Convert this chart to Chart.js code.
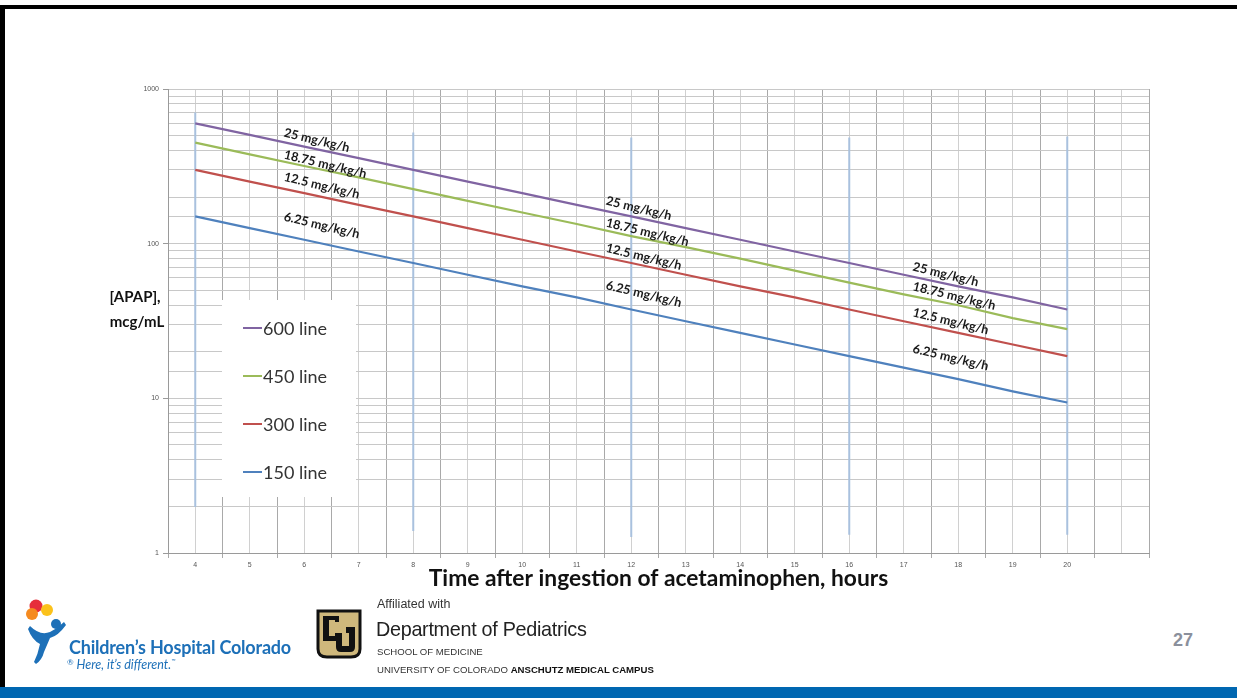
<!DOCTYPE html>
<html>
<head>
<meta charset="utf-8">
<script src="https://cdn.jsdelivr.net/npm/chart.js@4.4.1/dist/chart.umd.min.js"></script>
<style>
  html, body { margin: 0; padding: 0; background: #fff; }
  body { width: 1237px; height: 698px; position: relative; overflow: hidden; font-family: "Liberation Sans", Arial, sans-serif; }
  #chart { position: absolute; left: 0; top: 0; }
  .topline { position: absolute; left: 0; top: 5px; width: 1237px; height: 4px; background: #000; }
  .leftline { position: absolute; left: 0; top: 5px; width: 5px; height: 682px; background: #000; }
  .bluebar { position: absolute; left: 0; top: 687px; width: 1237px; height: 11px; background: #0067b1; }
  .pagenum { position: absolute; left: 1173px; top: 630px; font: bold 18px "Liberation Sans", Arial, sans-serif; color: #8b909c; }
  .chco { position: absolute; left: 69px; top: 636px; font: bold 18px Lato, sans-serif; color: #1d70b8; letter-spacing: -0.2px; }
  .chco-tag { position: absolute; left: 67px; top: 657px; font: italic 12.5px Lato, sans-serif; color: #1d70b8; }
  .aff { position: absolute; left: 377px; top: 597px; font-size: 12.5px; color: #333; }
  .dept { position: absolute; left: 376px; top: 618px; font-size: 19.8px; color: #222; letter-spacing: -0.3px; }
  .som { position: absolute; left: 377px; top: 646px; font-size: 9.6px; color: #333; }
  .univ { position: absolute; left: 377px; top: 664px; font-size: 9.6px; color: #333; }
  .univ b { color: #111; }
</style>
</head>
<body>
<div class="topline"></div>
<div class="leftline"></div>
<canvas id="chart" width="1237" height="600"></canvas>

<!-- footer logos -->
<svg style="position:absolute;left:20px;top:596px" width="50" height="74" viewBox="0 0 50 74">
  <circle cx="16" cy="10" r="6.5" fill="#e62e3b"/>
  <circle cx="27" cy="14" r="6" fill="#fbc21b"/>
  <circle cx="12" cy="18" r="6" fill="#f58a1f"/>
  <circle cx="36" cy="28" r="5" fill="#1d70b8"/>
  <path d="M10 30 Q20 40 30 36 Q38 32 44 26 L46 29 Q38 40 30 42 L24 56 Q22 64 16 68 L14 66 Q18 58 20 48 Q12 44 8 33 Z" fill="#1d70b8"/>
</svg>
<div class="chco">Children’s Hospital Colorado</div>
<div class="chco-tag"><span style="font-size:8px;font-style:normal;vertical-align:top">®</span> Here, it’s different.<span style="font-size:6px;vertical-align:top">™</span></div>

<svg style="position:absolute;left:315px;top:609px" width="48" height="50" viewBox="0 0 48 50">
  <path d="M3 2 H45 V40 Q45 48 36 48 H12 Q3 48 3 40 Z" fill="#cfb87c" stroke="#111" stroke-width="3"/>
  <path d="M8 7 H24 V13 H20 V11 H14 V27 H20 V24 H24 V32 H8 Z" fill="#111"/>
  <path d="M22 18 H40 V38 Q40 43 35 43 H26 Q21 43 21 38 V24 H27 V37 H34 V24 H31 V18" fill="#111"/>
</svg>
<div class="aff">Affiliated with</div>
<div class="dept">Department of Pediatrics</div>
<div class="som">SCHOOL OF MEDICINE</div>
<div class="univ">UNIVERSITY OF COLORADO <b>ANSCHUTZ MEDICAL CAMPUS</b></div>

<div class="pagenum">27</div>
<div class="bluebar"></div>

<script>
// ─── Data ───
const hours = [4, 5, 6, 7, 8, 9, 10, 11, 12, 13, 14, 15, 16, 17, 18, 19, 20];
const line600 = [600, 505, 424, 357, 300, 252, 212, 178, 150, 126, 106, 89, 75, 63, 53, 45, 37.5];
const line450 = [450, 378, 318, 268, 225, 189, 159, 134, 112, 95, 80, 67, 56, 47, 40, 33, 28];
const line300 = [300, 252, 212, 178, 150, 126, 106, 89, 75, 63, 53, 45, 37.5, 31.5, 26.5, 22.3, 18.75];
const line150 = [150, 126, 106, 89, 75, 63, 53, 45, 37.5, 31.5, 26.5, 22.3, 18.75, 15.8, 13.3, 11.1, 9.4];

const seriesNames = ['600 line', '450 line', '300 line', '150 line'];
const seriesColors = ['#8064a2', '#9bbb59', '#c0504d', '#4f81bd'];

// thin vertical marks at 4-hour intervals
const markerHours = [4, 8, 12, 16, 20];
const markerTops = [705, 523, 486, 486, 493];
const markerBottoms = [1.98, 1.39, 1.27, 1.31, 1.31];

// infusion-rate labels along the lines
const rateLabels = ['25 mg/kg/h', '18.75 mg/kg/h', '12.5 mg/kg/h', '6.25 mg/kg/h'];
const rateLabelHours = [5.63, 11.54, 17.17];
const rateLabelValues = [
    [523, 377, 271, 150],
    [190, 137, 94, 54],
    [71, 53, 36, 21]
];

const xTickMin = 3.5, xTickMax = 21.5;

// ─── Build datasets ───
const allSeries = [line600, line450, line300, line150];
const datasets = allSeries.map((vals, i) => ({
    label: seriesNames[i],
    data: hours.map((h, j) => ({ x: h, y: vals[j] })),
    borderColor: seriesColors[i],
    borderWidth: 2.2,
    pointRadius: 0,
    tension: 0
}));
markerHours.forEach((h, i) => {
    datasets.push({
        label: 'mark' + h,
        data: [{ x: h, y: markerBottoms[i] }, { x: h, y: markerTops[i] }],
        borderColor: '#a9c1de',
        borderWidth: 2,
        pointRadius: 0
    });
});

// ─── Plugins ───
const legendBox = {
    id: 'legendBox',
    beforeDatasetsDraw(chart) {
        const ctx = chart.ctx;
        ctx.save();
        ctx.fillStyle = '#fff';
        ctx.fillRect(222, 300, 134, 197);
        ctx.font = '18px Lato, sans-serif';
        ctx.textBaseline = 'middle';
        ctx.fillStyle = '#333';
        seriesNames.forEach((name, i) => {
            const y = 328 + i * 48;
            ctx.strokeStyle = seriesColors[i];
            ctx.lineWidth = 2;
            ctx.beginPath();
            ctx.moveTo(243, y);
            ctx.lineTo(262, y);
            ctx.stroke();
            ctx.fillText(name, 263, y + 1);
        });
        ctx.restore();
    }
};

const rateText = {
    id: 'rateText',
    afterDatasetsDraw(chart) {
        const { ctx, scales: { x, y } } = chart;
        ctx.save();
        ctx.font = 'bold 12.6px Lato, sans-serif';
        ctx.fillStyle = '#1a1a1a';
        ctx.textBaseline = 'middle';
        rateLabelHours.forEach((h, g) => {
            rateLabels.forEach((txt, k) => {
                ctx.save();
                ctx.translate(x.getPixelForValue(h), y.getPixelForValue(rateLabelValues[g][k]));
                ctx.rotate(13.5 * Math.PI / 180);
                ctx.fillText(txt, 0, 0);
                ctx.restore();
            });
        });
        // y axis title, horizontal, two lines
        ctx.font = 'bold 15px Lato, sans-serif';
        ctx.textAlign = 'center';
        ctx.fillStyle = '#111';
        ctx.fillText('[APAP],', 135, 297);
        ctx.fillText('mcg/mL', 137, 322);
        ctx.restore();
    }
};

const isDecade = v => Math.abs(Math.log10(v) - Math.round(Math.log10(v))) < 1e-9;

new Chart(document.getElementById('chart'), {
    type: 'line',
    data: { datasets },
    options: {
        responsive: false,
        animation: false,
        layout: { padding: { left: 128, top: 89, right: 88, bottom: 0 } },
        plugins: { legend: { display: false }, tooltip: { enabled: false } },
        scales: {
            x: {
                type: 'linear',
                min: xTickMin,
                max: xTickMax,
                afterFit: s => { s.height = 47; },
                border: { color: '#9a9a9a', width: 1 },
                grid: {
                    color: c => (c.tick && c.tick.value % 1 === 0) ? '#d0d0d0' : '#a9a9a9',
                    tickColor: c => (c.tick && c.tick.value % 1 === 0) ? 'rgba(0,0,0,0)' : '#a9a9a9',
                    tickLength: 5,
                    lineWidth: 1
                },
                ticks: {
                    stepSize: 0.5,
                    autoSkip: false,
                    maxRotation: 0,
                    padding: 3,
                    color: '#555',
                    font: { size: 7, family: 'Liberation Sans' },
                    callback: v => (v % 1 === 0 && v >= 4 && v <= 20) ? String(v) : ''
                },
                title: {
                    display: true,
                    text: 'Time after ingestion of acetaminophen, hours',
                    color: '#111',
                    font: { size: 22.8, weight: 'bold', family: 'Lato' },
                    padding: { top: 0, bottom: 8 }
                }
            },
            y: {
                type: 'logarithmic',
                min: 1,
                max: 1000,
                afterFit: s => { s.width = 40; },
                border: { color: '#9a9a9a', width: 1 },
                grid: {
                    color: '#c8c8c8',
                    tickColor: c => (c.tick && isDecade(c.tick.value)) ? '#9a9a9a' : 'rgba(0,0,0,0)',
                    tickLength: 5,
                    lineWidth: 1
                },
                ticks: {
                    autoSkip: false,
                    padding: 4,
                    color: '#555',
                    font: { size: 7, family: 'Liberation Sans' },
                    callback: v => isDecade(v) ? String(v) : ''
                }
            }
        }
    },
    plugins: [legendBox, rateText]
});
</script>
</body>
</html>
